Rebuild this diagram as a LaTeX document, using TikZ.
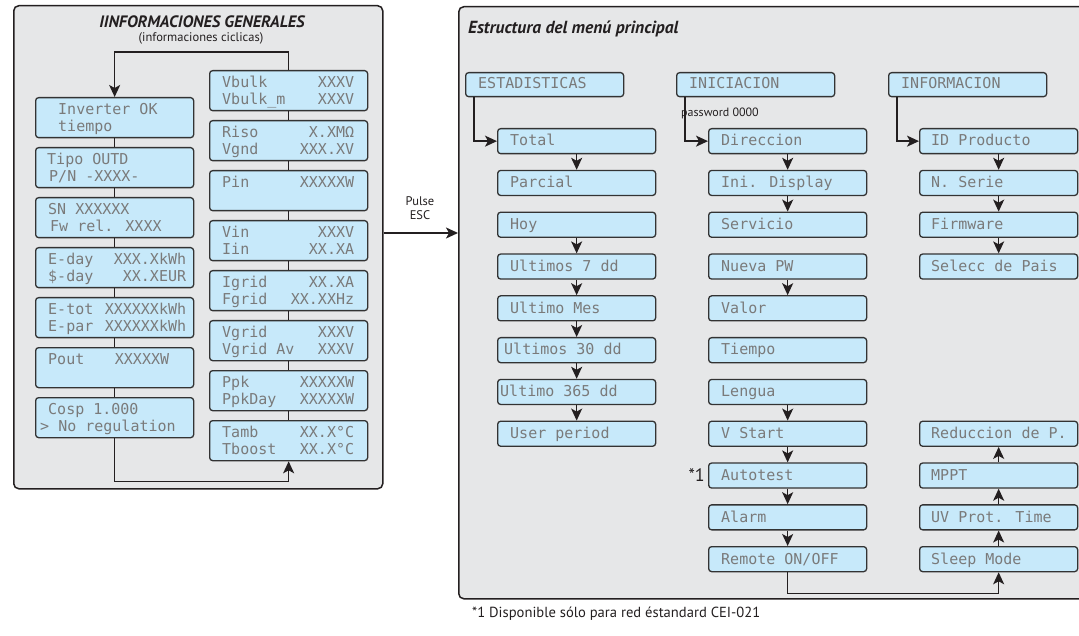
\documentclass[tikz,border=0pt]{standalone}
\usepackage{fontspec}
\setmainfont{PT Sans}
\newfontfamily\lcdfont{DejaVu Sans Mono}
\usetikzlibrary{arrows.meta,calc}
\definecolor{lcdfill}{HTML}{C7E9FA}
\definecolor{lcdline}{HTML}{333333}
\definecolor{lcdtext}{HTML}{7A7A7A}
\definecolor{panelfill}{HTML}{E6E7E8}
\definecolor{ink}{HTML}{231F20}
\newcommand\lcdl[5]{\node[lcdtxt,anchor=base west] (#1) at ([xshift=#3pt,yshift=-#4pt]#2.north west) {#5};}
\newcommand\lcdr[5]{\node[lcdtxt,anchor=base east] (#1) at ([xshift=-#3pt,yshift=-#4pt]#2.north east) {#5};}
\newcommand\mitem[5]{\node[mbox] (#1) at (#2,#3) {};\node[lcdtxt,anchor=base west] (#1-t) at ([xshift=#4pt,yshift=-18pt]#1.north west) {#5};}
\newcommand\hitem[4]{\node[hbox] (#1) at (#2,#3) {};\node[lcdtxt,anchor=base west] (#1-t) at ([xshift=13pt,yshift=-17pt]#1.north west) {#4};}
\begin{document}
\begin{tikzpicture}[x=1pt,y=-1pt,
  panel/.style={draw=ink,line width=1.5pt,fill=panelfill,rounded corners=5pt,anchor=north west,inner sep=0pt},
  bigbox/.style={draw=lcdline,line width=1.3pt,fill=lcdfill,rounded corners=3pt,anchor=north west,inner sep=0pt,minimum width=158pt,minimum height=40pt},
  mbox/.style={draw=lcdline,line width=1.3pt,fill=lcdfill,rounded corners=3pt,anchor=north west,inner sep=0pt,minimum width=158pt,minimum height=25pt},
  hbox/.style={mbox,minimum height=24pt},
  lcdtxt/.style={font=\lcdfont\fontsize{15}{17}\selectfont,text=lcdtext,inner sep=0pt},
  conn/.style={draw=ink,line width=1.5pt},
  arr/.style={conn,-{Stealth[length=12pt,width=11pt,inset=3pt]}},
  ttl/.style={font=\bfseries\itshape\fontsize{16.5}{18}\selectfont,text=ink,inner sep=0pt},
  sub/.style={font=\fontsize{12.5}{14}\selectfont,text=ink,inner sep=0pt},
  note/.style={font=\fontsize{12.5}{14.5}\selectfont,text=ink,inner sep=0pt}]
\useasboundingbox (0,0) rectangle (1079,636);
% panels
\node[panel,minimum width=369pt,minimum height=483pt] (lp) at (13,5) {};
\node[panel,minimum width=640pt,minimum height=592pt] (rp) at (458,6) {};
% titles
\node[ttl,anchor=base] (lt) at (202,28) {IINFORMACIONES GENERALES};
\node[sub,anchor=base] (ls) at (201,42) {(informaciones ciclicas)};
\node[ttl,font=\bfseries\itshape\fontsize{17.5}{19}\selectfont,anchor=base west] (rt) at (468,34) {Estructura del menú principal};
% left column
\node[bigbox] (L1) at (35,97) {};
\node[bigbox] (L2) at (35,147) {};
\node[bigbox] (L3) at (35,197) {};
\node[bigbox] (L4) at (35,247) {};
\node[bigbox] (L5) at (35,297) {};
\node[bigbox] (L6) at (35,347) {};
\node[bigbox] (L7) at (35,397) {};
\lcdl{L1a}{L1}{23}{17.5}{Inverter OK}
\lcdl{L1b}{L1}{23}{34.5}{tiempo}
\lcdl{L2a}{L2}{12}{17.5}{Tipo OUTD}
\lcdl{L2b}{L2}{14}{34.5}{P/N -XXXX-}
\lcdl{L3a}{L3}{13}{17.5}{SN XXXXXX}
\lcdl{L3b}{L3}{15}{34.5}{Fw rel. XXXX}
\lcdl{L4a}{L4}{13}{17.5}{E-day}
\lcdr{L4c}{L4}{8}{17.5}{XXX.XkWh}
\lcdl{L4b}{L4}{13}{34.5}{\$-day}
\lcdr{L4d}{L4}{8}{34.5}{XX.XEUR}
\lcdl{L5a}{L5}{13}{17.5}{E-tot}
\lcdr{L5c}{L5}{8}{17.5}{XXXXXXkWh}
\lcdl{L5b}{L5}{13}{34.5}{E-par}
\lcdr{L5d}{L5}{8}{34.5}{XXXXXXkWh}
\lcdl{L6a}{L6}{13}{17.5}{Pout}
\lcdr{L6c}{L6}{25}{17.5}{XXXXXW}
\lcdl{L7a}{L7}{13}{17.5}{Cosp 1.000}
\lcdl{L7b}{L7}{5}{34.5}{> No regulation}
% right column
\node[bigbox] (R1) at (209,70) {};
\node[bigbox] (R2) at (209,120) {};
\node[bigbox] (R3) at (209,170) {};
\node[bigbox] (R4) at (209,220) {};
\node[bigbox] (R5) at (209,270) {};
\node[bigbox] (R6) at (209,320) {};
\node[bigbox] (R7) at (209,370) {};
\node[bigbox] (R8) at (209,420) {};
\lcdl{R1a}{R1}{13}{17.5}{Vbulk}    \lcdr{R1c}{R1}{14}{17.5}{XXXV}
\lcdl{R1b}{R1}{13}{34.5}{Vbulk\_m} \lcdr{R1d}{R1}{14}{34.5}{XXXV}
\lcdl{R2a}{R2}{13}{17.5}{Riso}     \lcdr{R2c}{R2}{14}{17.5}{X.XMΩ}
\lcdl{R2b}{R2}{13}{34.5}{Vgnd}     \lcdr{R2d}{R2}{14}{34.5}{XXX.XV}
\lcdl{R3a}{R3}{13}{17.5}{Pin}      \lcdr{R3c}{R3}{14}{17.5}{XXXXXW}
\lcdl{R4a}{R4}{13}{17.5}{Vin}      \lcdr{R4c}{R4}{14}{17.5}{XXXV}
\lcdl{R4b}{R4}{13}{34.5}{Iin}      \lcdr{R4d}{R4}{14}{34.5}{XX.XA}
\lcdl{R5a}{R5}{13}{17.5}{Igrid}    \lcdr{R5c}{R5}{14}{17.5}{XX.XA}
\lcdl{R5b}{R5}{13}{34.5}{Fgrid}    \lcdr{R5d}{R5}{14}{34.5}{XX.XXHz}
\lcdl{R6a}{R6}{13}{17.5}{Vgrid}    \lcdr{R6c}{R6}{14}{17.5}{XXXV}
\lcdl{R6b}{R6}{13}{34.5}{Vgrid Av} \lcdr{R6d}{R6}{14}{34.5}{XXXV}
\lcdl{R7a}{R7}{13}{17.5}{Ppk}      \lcdr{R7c}{R7}{14}{17.5}{XXXXXW}
\lcdl{R7b}{R7}{13}{34.5}{PpkDay}   \lcdr{R7d}{R7}{14}{34.5}{XXXXXW}
\lcdl{R8a}{R8}{13}{17.5}{Tamb}     \lcdr{R8c}{R8}{14}{17.5}{XX.X°C}
\lcdl{R8b}{R8}{13}{34.5}{Tboost}   \lcdr{R8d}{R8}{14}{34.5}{XX.X°C}
% left panel connectors
\foreach \a/\b in {L1/L2,L2/L3,L3/L4,L4/L5,L5/L6,L6/L7,R1/R2,R2/R3,R3/R4,R4/R5,R5/R6,R6/R7,R7/R8}
  \draw[conn] (\a.south) -- (\b.north);
\draw[arr] (R1.north) -- ++(0,-18) -| (L1.north);
\draw[arr] (L7.south) -- ++(0,43) -| (R8.south);
% ESC arrow
\coordinate (escy) at (0,233);
\node[note,align=center] (esc) at (420,208) {Pulse\\ESC};
\draw[arr] (lp.east |- escy) -- (rp.west |- escy);
% right panel headers
\hitem{H1}{465}{72}{ESTADISTICAS}
\hitem{H2}{676}{72}{INICIACION}
\hitem{H3}{888}{72}{INFORMACION}
% column 1
\mitem{A0}{497}{128}{13}{Total}
\mitem{A1}{497}{169.8}{13}{Parcial}
\mitem{A2}{497}{211.6}{13}{Hoy}
\mitem{A3}{497}{253.4}{13}{Ultimos 7 dd}
\mitem{A4}{497}{295.2}{13}{Ultimo Mes}
\mitem{A5}{497}{337}{7}{Ultimos 30 dd}
\mitem{A6}{497}{378.8}{3}{Ultimo 365 dd}
\mitem{A7}{497}{420.6}{13}{User period}
% column 2
\mitem{B0}{708}{128}{13}{Direccion}
\mitem{B1}{708}{169.8}{13}{Ini. Display}
\mitem{B2}{708}{211.6}{13}{Servicio}
\mitem{B3}{708}{253.4}{13}{Nueva PW}
\mitem{B4}{708}{295.2}{13}{Valor}
\mitem{B5}{708}{337}{13}{Tiempo}
\mitem{B6}{708}{378.8}{13}{Lengua}
\mitem{B7}{708}{420.6}{13}{V Start}
\mitem{B8}{708}{462.4}{13}{Autotest}
\mitem{B9}{708}{504.2}{13}{Alarm}
\mitem{B10}{708}{546}{13}{Remote ON/OFF}
% column 3
\mitem{C0}{919}{128}{12}{ID Producto}
\mitem{C1}{919}{169.8}{12}{N. Serie}
\mitem{C2}{919}{211.6}{12}{Firmware}
\mitem{C3}{919}{253.4}{12}{Selecc de Pais}
\mitem{C7}{919}{420.6}{12}{Reduccion de P.}
\mitem{C8}{919}{462.4}{12}{MPPT}
\mitem{C9}{919}{504.2}{12}{UV Prot. Time}
\mitem{C10}{919}{546}{12}{Sleep Mode}
% header arrows
\draw[arr] ([xshift=9pt]H1.south west) |- (A0.west);
\draw[arr] ([xshift=9pt]H2.south west) |- (B0.west);
\draw[arr] ([xshift=9pt]H3.south west) |- (C0.west);
\node[font=\fontsize{12}{14}\selectfont,text=ink,inner sep=0pt,anchor=base west] (pw) at (681,117) {password 0000};
% column arrows (downwards)
\foreach \a/\b in {A0/A1,A2/A3,A3/A4,A4/A5,A5/A6,A6/A7,B0/B1,B1/B2,B3/B4,B6/B7,B7/B8,B8/B9,B9/B10,C0/C1,C1/C2,C2/C3}
  \draw[arr] (\a.south) -- (\b.north);
% column arrows (upwards)
\foreach \a/\b in {C10/C9,C9/C8,C8/C7}
  \draw[arr] (\a.north) -- (\b.south);
\draw[arr] (B10.south) -- ++(0,21) -| (C10.south);
% notes
\node[font=\fontsize{18}{20}\selectfont,text=ink,inner sep=0pt,anchor=base east] (star) at ([xshift=-3pt,yshift=-19.5pt]B8.north west) {*1};
\node[font=\fontsize{14.6}{16}\selectfont,text=ink,inner sep=0pt,anchor=base west] (foot) at (472,617) {*1 Disponible sólo para red éstandard CEI-021};
\end{tikzpicture}
\end{document}
